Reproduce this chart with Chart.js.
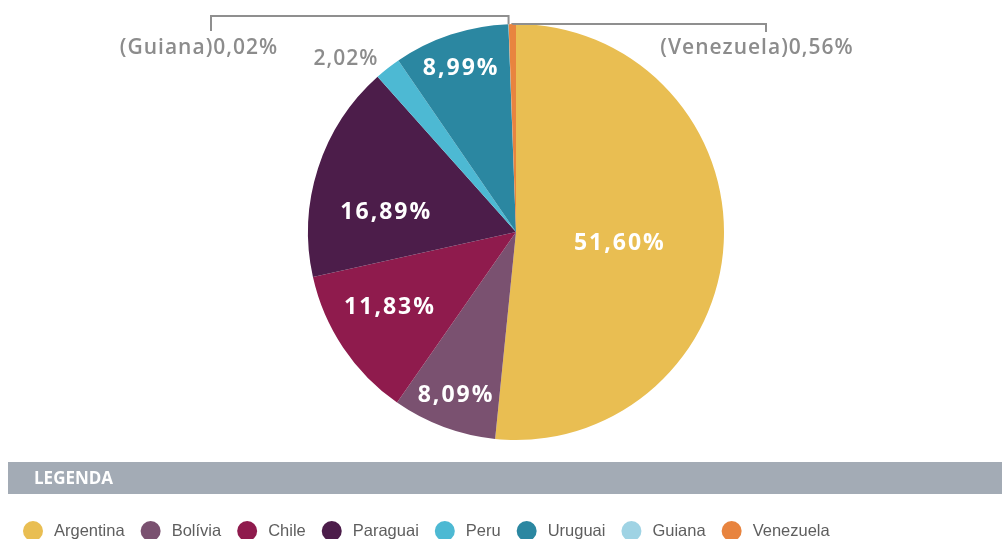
<!DOCTYPE html>
<html>
<head>
<meta charset="utf-8">
<script src="https://cdn.jsdelivr.net/npm/chart.js@4.4.1/dist/chart.umd.min.js"></script>
<style>
  body { margin: 0; background: #fff; }
  #wrap { width: 1002px; height: 539px; }
</style>
</head>
<body>
<div id="wrap"><canvas id="pieChart" width="1002" height="539"></canvas></div>
<script>
// Participação por país (%)
const countries = ["Argentina", "Bolívia", "Chile", "Paraguai", "Peru", "Uruguai", "Guiana", "Venezuela"];
const shares = [51.60, 8.09, 11.83, 16.89, 2.02, 8.99, 0.02, 0.56];
const sliceColors = ["#E9BE52", "#7A5170", "#8F1B4D", "#4C1D4A", "#4DB9D3", "#2B87A1", "#9FD3E4", "#E8843F"];

// where each percentage goes: fraction of the radius + small nudges
const labelSpots = {
    "Argentina": { r: 0.50, dx: 0, dy: 6, inside: true },
    "Bolívia":   { r: 0.83, dx: 0, dy: 2, inside: true },
    "Chile":     { r: 0.70, dx: -5, dy: -6, inside: true },
    "Paraguai":  { r: 0.63, dx: -5, dy: 21, inside: true },
    "Peru":      { r: 1.17, dx: -20, dy: 19, inside: false },
    "Uruguai":   { r: 0.84, dx: 0, dy: 2, inside: true }
};

// tiny slices get a bracket line out to a named label
const callouts = {
    "Guiana":    { elbowY: 16, endX: 211, endY: 31, textX: 199, textY: 48 },
    "Venezuela": { elbowY: 24, endX: 766, endY: 32, textX: 757, textY: 48 }
};

function fmt(v) {
    return v.toFixed(2).replace(".", ",") + "%";
}

const sliceLabels = {
    id: "sliceLabels",
    afterDatasetsDraw(chart) {
        const ctx = chart.ctx;
        const arcs = chart.getDatasetMeta(0).data;
        ctx.save();
        ctx.textAlign = "center";
        ctx.textBaseline = "middle";

        arcs.forEach((arc, i) => {
            const name = chart.data.labels[i];
            const value = chart.data.datasets[0].data[i];
            const mid = (arc.startAngle + arc.endAngle) / 2;

            if (labelSpots[name]) {
                const s = labelSpots[name];
                const x = arc.x + Math.cos(mid) * arc.outerRadius * s.r + s.dx;
                const y = arc.y + Math.sin(mid) * arc.outerRadius * s.r + s.dy;
                if (s.inside) {
                    ctx.font = "bold 23px 'Open Sans', sans-serif";
                    ctx.fillStyle = "#ffffff";
                    ctx.letterSpacing = "2px";
                } else {
                    ctx.font = "600 21px 'Open Sans', sans-serif";
                    ctx.fillStyle = "#8c8c8c";
                    ctx.letterSpacing = "1px";
                }
                ctx.fillText(fmt(value), x, y);
            }

            if (callouts[name]) {
                const c = callouts[name];
                const px = arc.x + Math.cos(mid) * arc.outerRadius;
                const py = arc.y + Math.sin(mid) * arc.outerRadius;
                ctx.strokeStyle = "#8f8f8f";
                ctx.lineWidth = 2;
                ctx.beginPath();
                ctx.moveTo(px, py);
                ctx.lineTo(px, c.elbowY);
                ctx.lineTo(c.endX, c.elbowY);
                ctx.lineTo(c.endX, c.endY);
                ctx.stroke();

                ctx.font = "600 21px 'Open Sans', sans-serif";
                ctx.fillStyle = "#8c8c8c";
                ctx.letterSpacing = "1px";
                ctx.fillText("(" + name + ")" + fmt(value), c.textX, c.textY);
            }
        });
        ctx.restore();
    }
};

// grey "LEGENDA" band with the country list under it
const legendBand = {
    id: "legendBand",
    afterDraw(chart) {
        const ctx = chart.ctx;
        ctx.save();
        ctx.fillStyle = "#A3ABB5";
        ctx.fillRect(8, 462, 994, 32);
        ctx.font = "bold 17px 'Open Sans', sans-serif";
        ctx.fillStyle = "#ffffff";
        ctx.textBaseline = "middle";
        ctx.fillText("LEGENDA", 34, 479);

        ctx.font = "16.5px 'Liberation Sans', Arial, sans-serif";
        let x = 23;
        const y = 531;
        chart.data.labels.forEach((name, i) => {
            ctx.fillStyle = chart.data.datasets[0].backgroundColor[i];
            ctx.beginPath();
            ctx.arc(x + 10, y, 10, 0, Math.PI * 2);
            ctx.fill();
            ctx.fillStyle = "#5e5e5e";
            ctx.fillText(name, x + 31, y);
            x += 31 + ctx.measureText(name).width + 16;
        });
        ctx.restore();
    }
};

new Chart(document.getElementById("pieChart"), {
    type: "pie",
    data: {
        labels: countries,
        datasets: [{
            data: shares,
            backgroundColor: sliceColors,
            borderWidth: 0
        }]
    },
    options: {
        responsive: false,
        animation: false,
        layout: { padding: { top: 24, bottom: 99, left: 308, right: 278 } },
        plugins: {
            legend: { display: false },
            tooltip: { enabled: false }
        }
    },
    plugins: [sliceLabels, legendBand]
});
</script>
</body>
</html>
